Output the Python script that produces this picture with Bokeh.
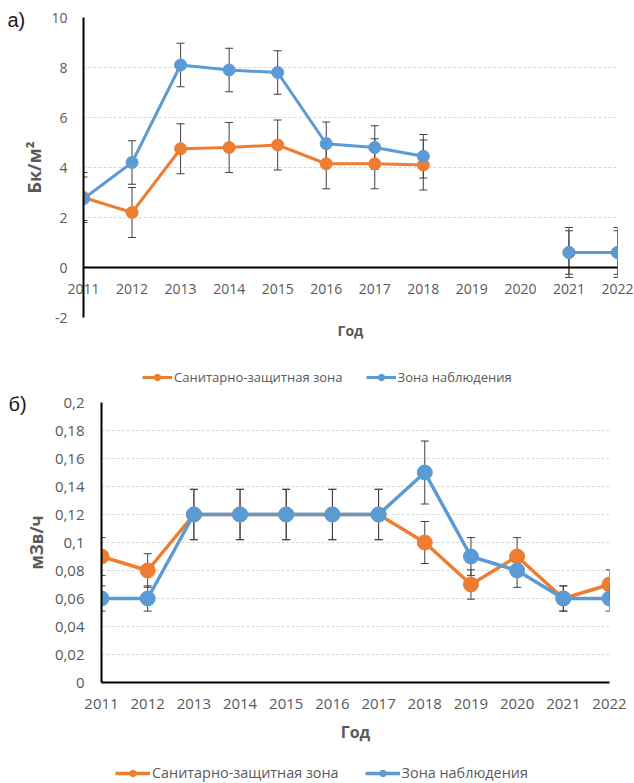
from bokeh.plotting import figure
from bokeh.models import (Range1d, FixedTicker, Whisker, TeeHead, ColumnDataSource,
                          Legend, LegendItem, Span, Title)
from bokeh.embed import file_html
from bokeh.resources import INLINE

# ---------------- data ----------------
years = [2011, 2012, 2013, 2014, 2015, 2016, 2017, 2018, 2019, 2020, 2021, 2022]
series_names = ["Санитарно-защитная зона", "Зона наблюдения"]

# (a) Bq/m2
a_szz = [2.8, 2.2, 4.75, 4.8, 4.9, 4.15, 4.15, 4.1, None, None, 0.6, 0.6]
a_zn = [2.75, 4.2, 8.1, 7.9, 7.8, 4.95, 4.8, 4.45, None, None, 0.6, 0.6]
a_szz_err = [1.0, 1.0, 1.0, 1.0, 1.0, 1.0, 1.0, 1.0, None, None, 1.0, 1.0]
a_zn_err = [0.87, 0.87, 0.87, 0.87, 0.87, 0.87, 0.87, 0.87, None, None, 0.87, 0.87]
a_yticks = [-2, 0, 2, 4, 6, 8, 10]
a_ylabels = ["-2", "0", "2", "4", "6", "8", "10"]

# (b) mSv/h
b_szz = [0.09, 0.08, 0.12, 0.12, 0.12, 0.12, 0.12, 0.10, 0.07, 0.09, 0.06, 0.07]
b_zn = [0.06, 0.06, 0.12, 0.12, 0.12, 0.12, 0.12, 0.15, 0.09, 0.08, 0.06, 0.06]
b_szz_err = [0.0135, 0.012, 0.018, 0.018, 0.018, 0.018, 0.018, 0.015, 0.0105, 0.0135, 0.009, 0.0105]
b_zn_err = [0.009, 0.009, 0.018, 0.018, 0.018, 0.018, 0.018, 0.0225, 0.0135, 0.012, 0.009, 0.009]
b_yticks = [0, 0.02, 0.04, 0.06, 0.08, 0.1, 0.12, 0.14, 0.16, 0.18, 0.2]
b_ylabels = ["0", "0,02", "0,04", "0,06", "0,08", "0,1", "0,12", "0,14", "0,16", "0,18", "0,2"]

ORANGE = "#ED7D31"
BLUE = "#5B9BD5"
GRAY = "#595959"
ERR = "#404040"
FONT = "Open Sans"


def nanify(v):
    return [float("nan") if x is None else x for x in v]


def add_series(p, vals, errs, color, lw, size):
    src = ColumnDataSource(dict(x=years, y=nanify(vals)))
    wx, wu, wl = [], [], []
    for x, v, e in zip(years, vals, errs):
        if v is not None:
            wx.append(x); wu.append(v + e); wl.append(v - e)
    wsrc = ColumnDataSource(dict(x=wx, u=wu, l=wl))
    w = Whisker(source=wsrc, base="x", upper="u", lower="l", line_color=ERR, line_width=1,
                upper_head=TeeHead(size=8, line_color=ERR, line_width=1),
                lower_head=TeeHead(size=8, line_color=ERR, line_width=1), level="underlay")
    p.add_layout(w)
    p.line("x", "y", source=src, line_color=color, line_width=lw)
    p.scatter("x", "y", source=src, size=size, fill_color=color, line_color=color)


def make_chart(h, yr, bl, br, bt, bb, yticks, ylabels, ylabel, tick_fs, ylab_fs, ylab_standoff,
               s1, e1, s2, e2, lw, msize, zero_axis, panel_text, title_offset, title_standoff,
               god_standoff, god_fs, tick_standoff_x, tick_standoff_y):
    p = figure(width=634, height=h, x_range=Range1d(2011, 2022), y_range=Range1d(*yr),
               output_backend="svg", toolbar_location=None,
               min_border_left=bl, min_border_right=br, min_border_top=bt, min_border_bottom=bb)
    p.outline_line_color = None
    p.xgrid.visible = False
    p.ygrid.grid_line_color = "#d6d6d6"
    p.ygrid.grid_line_dash = "3 2"
    p.ygrid.grid_line_width = 1

    p.xaxis.ticker = FixedTicker(ticks=years)
    p.xaxis.major_label_overrides = {y: str(y) for y in years}
    p.yaxis.ticker = FixedTicker(ticks=yticks)
    p.yaxis.major_label_overrides = dict(zip(yticks, ylabels))
    for ax in (p.xaxis[0], p.yaxis[0]):
        ax.axis_line_color = "black"
        ax.axis_line_width = 2
        ax.major_tick_line_color = None
        ax.minor_tick_line_color = None
        ax.major_label_text_font = FONT
        ax.major_label_text_font_size = tick_fs
        ax.major_label_text_color = GRAY
    p.xaxis.major_label_standoff = tick_standoff_x
    p.yaxis.major_label_standoff = tick_standoff_y
    if zero_axis:
        p.xaxis.axis_line_color = None
        p.add_layout(Span(location=0, dimension="width", line_color="black", line_width=2))
    p.yaxis.axis_label = ylabel
    p.yaxis.axis_label_text_font = FONT
    p.yaxis.axis_label_text_font_style = "bold"
    p.yaxis.axis_label_text_font_size = ylab_fs
    p.yaxis.axis_label_text_color = GRAY
    p.yaxis.axis_label_standoff = ylab_standoff
    p.xaxis.axis_label = "Год"
    p.xaxis.axis_label_text_font = FONT
    p.xaxis.axis_label_text_font_style = "bold"
    p.xaxis.axis_label_text_font_size = god_fs
    p.xaxis.axis_label_text_color = GRAY
    p.xaxis.axis_label_standoff = god_standoff

    add_series(p, s1, e1, ORANGE, lw, msize)
    add_series(p, s2, e2, BLUE, lw, msize)

    t = Title(text=panel_text, align="left", offset=title_offset, standoff=title_standoff,
              text_font="Liberation Sans", text_font_size="20px", text_color="#1a1a1a",
              text_font_style="normal")
    p.add_layout(t, "above")
    return p


def make_legend_fig(h, loc, fs, glyph_w, spacing, lw):
    f = figure(width=634, height=h, x_range=Range1d(0, 1), y_range=Range1d(0, 1),
               output_backend="svg", toolbar_location=None, min_border=0)
    f.xaxis.visible = False
    f.yaxis.visible = False
    f.xgrid.visible = False
    f.ygrid.visible = False
    f.outline_line_color = None
    rs = []
    for color in (ORANGE, BLUE):
        # legend-only helper renderers, kept outside the visible range
        src = ColumnDataSource(dict(x=[-5, -4], y=[-5, -4]))
        lr = f.line("x", "y", source=src, line_color=color, line_width=lw)
        sr = f.scatter("x", "y", source=src, size=8, fill_color=color, line_color=color)
        rs.append([lr, sr])
    legend = Legend(items=[LegendItem(label=series_names[0], renderers=rs[0]),
                           LegendItem(label=series_names[1], renderers=rs[1])],
                    location=loc, orientation="horizontal", padding=0, margin=0,
                    border_line_alpha=0, background_fill_alpha=0,
                    glyph_width=glyph_w, glyph_height=16, label_height=16,
                    label_standoff=2, spacing=spacing,
                    label_text_font=FONT, label_text_font_size=fs,
                    label_text_color=GRAY)
    f.add_layout(legend)
    return f


p1 = make_chart(362, (-2, 10), 83, 17, 17, 45, a_yticks, a_ylabels, "Бк/м²", "14px", "18px", 2,
                a_szz, a_szz_err, a_zn, a_zn_err, 3, 12, True, "а)", -76, -27,
                24, "14px", -40, 10)
leg1 = make_legend_fig(30, (142, 6), "13px", 30, 23, 3)
p2 = make_chart(353, (0, 0.2), 101, 25, 10, 63, b_yticks, b_ylabels, "мЗв/ч", "15px", "17px", 4,
                b_szz, b_szz_err, b_zn, b_zn_err, 3.5, 15, False, "б)", -93, -25,
                9, "16px", 10, 11)
leg2 = make_legend_fig(38, (115, 1), "14.4px", 35, 26, 3.5)

open("out.html", "w").write(file_html([p1, leg1, p2, leg2], INLINE))
